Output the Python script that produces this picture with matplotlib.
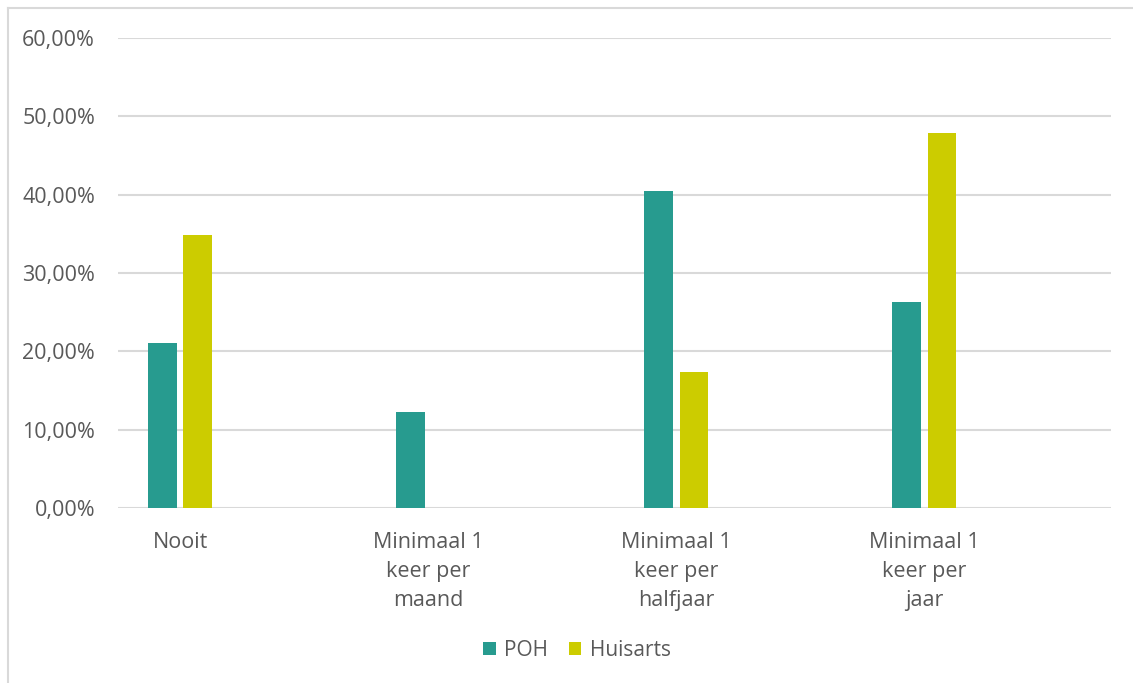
"""Grouped bar chart: POH versus Huisarts frequency."""
import matplotlib.pyplot as plt
import numpy as np
from matplotlib.lines import Line2D
from matplotlib.ticker import FuncFormatter

CATEGORIES = ["Nooit", "Minimaal 1\nkeer per\nmaand",
              "Minimaal 1\nkeer per\nhalfjaar", "Minimaal 1\nkeer per\njaar"]
POH = [21.05, 12.25, 40.45, 26.3]
HUISARTS = [34.85, 0.0, 17.35, 47.85]
SERIES = ["POH", "Huisarts"]
COLORS = ["#279b8f", "#cccc00"]
TEXT = "#595959"


def pct(v, _):
    return f"{v:.2f}%".replace(".", ",")


def main():
    plt.rcParams["font.family"] = ["Open Sans", "DejaVu Sans"]
    fig = plt.figure(figsize=(11.33, 6.83), dpi=100)
    ax = fig.add_axes([118 / 1133, 1 - 508 / 683, 993 / 1133, 470 / 683])

    x = np.arange(len(CATEGORIES))
    width = 0.113
    off = 0.0706
    ax.bar(x - off, POH, width, color=COLORS[0], label=SERIES[0], zorder=3)
    ax.bar(x + off, HUISARTS, width, color=COLORS[1], label=SERIES[1],
           zorder=3)

    ax.set_xlim(-0.25, 3.754)
    ax.set_ylim(0, 60)
    ax.set_yticks(np.arange(0, 61, 10))
    ax.yaxis.set_major_formatter(FuncFormatter(pct))
    ax.grid(axis="y", color="#d9d9d9", linewidth=1.5, zorder=0)
    for s in ax.spines.values():
        s.set_visible(False)
    ax.tick_params(length=0, labelsize=15.5, labelcolor=TEXT)
    ax.tick_params(axis="y", pad=16.5)
    ax.tick_params(axis="x", pad=17)
    ax.set_xticks(x)
    ax.set_xticklabels(CATEGORIES, linespacing=1.5)

    ax.legend(loc="center", bbox_to_anchor=(577 / 1133, 1 - 650 / 683),
              bbox_transform=fig.transFigure, ncol=2, frameon=False,
              fontsize=15, labelcolor=TEXT, handlelength=0.6,
              handleheight=0.6, handletextpad=0.4, columnspacing=1.0)

    # chart frame: only left and top edges are inside the picture
    fx = 8 / 1133
    fy = 1 - 8 / 683
    fig.add_artist(Line2D([fx, fx], [0, fy], transform=fig.transFigure,
                          color="#d9d9d9", linewidth=1.5))
    fig.add_artist(Line2D([fx, 1], [fy, fy], transform=fig.transFigure,
                          color="#d9d9d9", linewidth=1.5))
    fig.savefig("out.png", dpi=100)


if __name__ == "__main__":
    main()
